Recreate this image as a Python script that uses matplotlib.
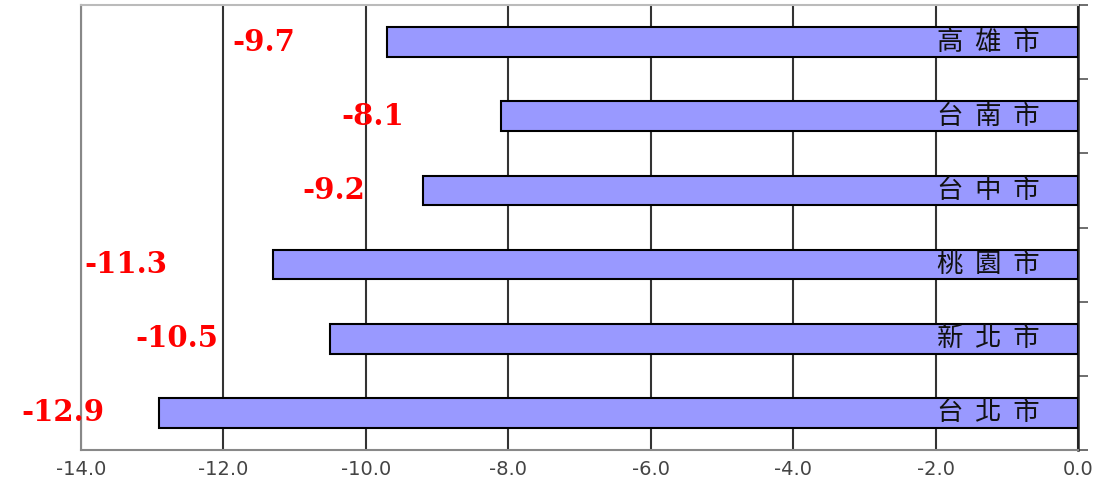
import matplotlib
matplotlib.use('Agg')
import matplotlib.pyplot as plt
import numpy as np

# data, top to bottom as in the chart
cities = ['高雄市', '台南市', '台中市', '桃園市', '新北市', '台北市']
values = [-9.7, -8.1, -9.2, -11.3, -10.5, -12.9]
xticks = [-14.0, -12.0, -10.0, -8.0, -6.0, -4.0, -2.0, 0.0]

# hand placed value labels in the original: gap (px) between label and bar end
label_gap = [92, 97, 58, 106, 112, 55]

plt.rcParams['font.family'] = ['Noto Sans CJK TC', 'DejaVu Sans']

fig = plt.figure(figsize=(11.08, 4.9), dpi=100)
ax = fig.add_axes([81 / 1108, 1 - 450 / 490, 997 / 1108, 445 / 490])

y = np.arange(len(cities))
ax.barh(y, values, height=0.4, color='#9999ff', edgecolor='black', linewidth=1.5, zorder=3)

for yi, v, city, gap in zip(y, values, cities, label_gap):
    ax.annotate('%.1f' % v, xy=(v, yi), xytext=(-gap * 0.72, 0), textcoords='offset points',
                ha='right', va='center', color='red', fontsize=21, fontweight='bold',
                family='DejaVu Serif', zorder=4, annotation_clip=False)
    ax.annotate('  '.join(city), xy=(0, yi), xytext=(-38 * 0.72, 0), textcoords='offset points',
                ha='right', va='center', color='#111111', fontsize=19, zorder=4)

ax.set_xlim(-14, 0)
ax.set_ylim(len(cities) - 0.5, -0.5)
ax.set_xticks(xticks)
ax.set_xticklabels(['%.1f' % t for t in xticks], color='#444444', fontsize=14,
                   family='DejaVu Sans')
ax.tick_params(axis='x', length=0, pad=7)
ax.grid(axis='x', color='#333333', linewidth=1.5, zorder=1)

# category boundary ticks on the right spine
ax.set_yticks(np.arange(len(cities) + 1) - 0.5)
ax.yaxis.tick_right()
ax.set_yticklabels([])
ax.tick_params(axis='y', direction='out', length=7, width=1.2, color='#555555')

ax.spines['left'].set_color('#888888')
ax.spines['left'].set_linewidth(1.5)
ax.spines['top'].set_color('#bbbbbb')
ax.spines['top'].set_linewidth(1.5)
ax.spines['bottom'].set_color('#888888')
ax.spines['bottom'].set_linewidth(1.5)
ax.spines['right'].set_color('#222222')
ax.spines['right'].set_linewidth(1.8)

plt.savefig('out.png', dpi=100)
